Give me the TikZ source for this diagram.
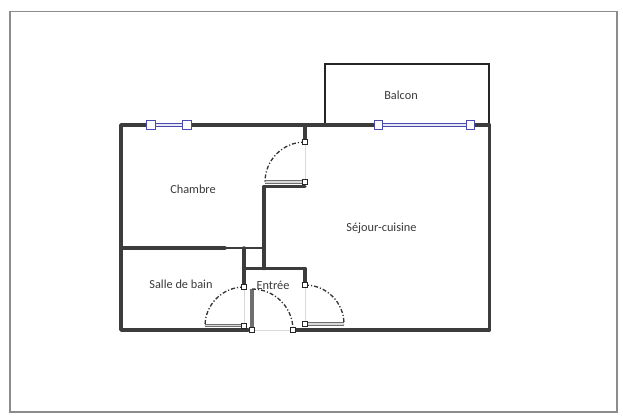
\documentclass[tikz,border=0pt]{standalone}
\usepackage{fontspec}
\setmainfont{Carlito}
\definecolor{wallc}{HTML}{3C3C3C}
\definecolor{leafc}{HTML}{6E6E6E}
\definecolor{winc}{HTML}{4A4AB0}
\definecolor{txtc}{HTML}{3A3A3A}
\tikzset{
  wall/.style={draw=wallc,line width=3.5pt,line cap=round,line join=round},
  thinwall/.style={draw=wallc,line width=2.6pt,line cap=round},
  balc/.style={draw=black!85,line width=2pt,line join=miter},
  swing/.style={draw=black!80,line width=1.3pt,dash pattern=on 4pt off 2pt on 1.2pt off 2pt},
  gap/.style={draw=black!15,line width=0.9pt},
  leaf/.style={draw=leafc,line width=3.6pt},
  leafin/.style={draw=white!85!black,line width=1.1pt},
  winbar/.style={draw=winc,line width=3.8pt},
  winin/.style={draw=winc!12,line width=1.2pt},
  winbox/.style={draw=winc,fill=white,line width=1.4pt,minimum size=8.5pt,inner sep=0pt,shape=rectangle},
  hinge/.style={draw=black!85,fill=white,line width=1.1pt,minimum size=5.5pt,inner sep=0pt,shape=rectangle},
  room/.style={text=txtc,font=\fontsize{12.3}{14}\selectfont,inner sep=0pt},
  frm/.style={draw=black!45,line width=1.2pt}
}
\begin{document}
\begin{tikzpicture}[x=1pt,y=-1pt]
\useasboundingbox (0,0) rectangle (623,416);
\fill[white] (0,0) rectangle (623,416);
\draw[frm] (10,11.5) rectangle (617,412);
% gaps
\draw[gap] (305,142) -- (305,182);
\draw[gap] (244,287) -- (244,326);
\draw[gap] (305,285) -- (305,324);
\draw[gap] (252,330) -- (293,330);
% balcony
\draw[balc] (325,125) -- (325,64) -- (489,64) -- (489,125);
% outer walls
\draw[wall] (248,330) -- (121,330) -- (121,125) -- (489.5,125) -- (489.5,330) -- (293,330);
% inner walls
\draw[wall] (305,125) -- (305,142);
\draw[wall] (305,186.5) -- (264,186.5) -- (264,268.5);
\draw[wall] (121,248) -- (225,248);
\draw[thinwall] (225,248) -- (264,248);
\draw[wall] (244,248) -- (244,287);
\draw[wall] (244,268.5) -- (305,268.5) -- (305,285);
% door leaves
\draw[leaf] (265,182) -- (305,182);
\draw[leafin] (265,182) -- (305,182);
\draw[leaf] (205,325.5) -- (244,325.5);
\draw[leafin] (205,325.5) -- (244,325.5);
\draw[leaf] (252,289) -- (252,330);
\draw[leaf] (305,324) -- (344,324);
\draw[leafin] (305,324) -- (344,324);
% swings
\draw[swing] (305,142) arc[start angle=-90,end angle=-180,radius=40];
\draw[swing] (244,287) arc[start angle=-90,end angle=-180,radius=39];
\draw[swing] (252,289) arc[start angle=-90,end angle=0,radius=41];
\draw[swing] (305,285) arc[start angle=-90,end angle=0,radius=39];
% windows
\draw[winbar] (151,125) -- (187,125);
\draw[winin] (151,125) -- (187,125);
\draw[winbar] (378,125) -- (470.5,125);
\draw[winin] (378,125) -- (470.5,125);
\node[winbox] (w1) at (151,125) {};
\node[winbox] (w2) at (187,125) {};
\node[winbox] (w3) at (378.5,125) {};
\node[winbox] (w4) at (470.5,125) {};
% hinges
\node[hinge] (h1) at (305,142) {};
\node[hinge] (h2) at (305,182) {};
\node[hinge] (h3) at (244,287) {};
\node[hinge] (h4) at (244,326) {};
\node[hinge] (h5) at (252,330) {};
\node[hinge] (h6) at (293,330) {};
\node[hinge] (h7) at (305,285) {};
\node[hinge] (h8) at (305,324) {};
% labels
\node[room] (balcon) at (401,95.5) {Balcon};
\node[room] (chambre) at (193,189) {Chambre};
\node[room] (sejour) at (381.5,228.5) {Séjour-cuisine};
\node[room] (sdb) at (181,284) {Salle de bain};
\node[room] (entree) at (273,285.5) {Entrée};
\end{tikzpicture}
\end{document}
